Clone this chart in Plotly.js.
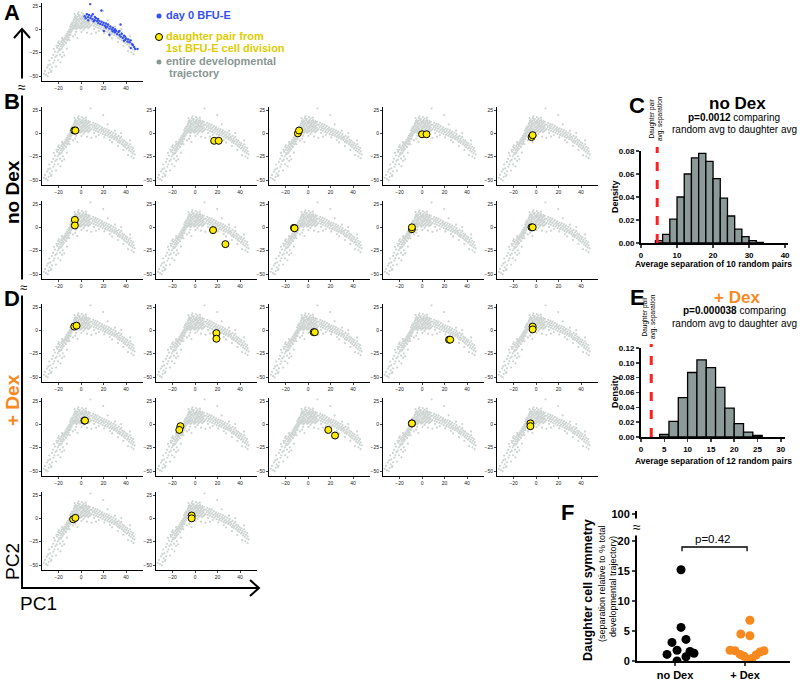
<!DOCTYPE html>
<html><head><meta charset="utf-8">
<script src="https://cdn.plot.ly/plotly-3.0.1.min.js"></script>
<style>html,body{margin:0;padding:0;background:#fff}#chart{width:800px;height:680px}</style>
</head><body><div id="chart"></div>
<script>
// ---------------- DATA ----------------
// entire developmental trajectory (PC1, PC2)
const trajectoryPoints = [
[-31.2,-49.1],[-29.6,-50.3],[-28.8,-46.7],[-32.1,-44.6],[-27.9,-42.8],[-30.3,-40.9],[-26.7,-45.6],[-25.8,-40.7],[-27.4,-37.6],[-24.6,-35.8],
[-28.3,-33.4],[-23.7,-33.2],[-25.9,-30.6],[-22.8,-29.7],[-24.8,-27.3],[-21.6,-28.2],[-20.7,-24.6],[-23.2,-23.8],[-19.6,-22.7],[-24.1,-20.9],
[-18.7,-27.1],[-29.2,-38.7],[-20.4,-33.1],[-16.8,-29.6],[-14.9,-27.8],[-12.6,-20.7],[-18.3,-35.4],[-33.1,-47.6],[-22.2,-39.8],[-26.3,-44.7],
[-21.3,-19.6],[-20.2,-17.7],[-19.4,-20.8],[-18.9,-15.6],[-18.2,-18.3],[-17.6,-13.7],[-17.1,-16.6],[-16.7,-11.8],[-16.2,-14.8],[-15.8,-10.6],
[-15.3,-12.7],[-14.6,-8.8],[-14.2,-13.6],[-13.9,-9.7],[-13.7,-6.6],[-13.1,-10.8],[-12.8,-7.7],[-12.6,-4.6],[-12.1,-8.6],[-11.8,-5.7],
[-11.7,-2.6],[-11.2,-6.8],[-10.8,-3.7],[-10.6,-0.8],[-10.2,-5.6],[-9.8,-2.7],[-9.6,0.4],[-9.7,3.2],[-9.1,-3.6],[-8.8,-0.7],
[-8.6,2.3],[-8.9,5.4],[-8.2,-1.8],[-7.8,1.3],[-7.6,4.4],[-7.9,7.3],[-20.3,-14.6],[-18.1,-21.7],[-16.4,-18.6],[-15.2,-16.7],
[-13.4,-14.8],[-11.3,-10.7],[-21.8,-17.6],[-17.3,-20.6],[-14.8,-11.3],[-12.4,-11.9],[-10.9,-8.8],[-9.4,-6.2],[-19.8,-12.9],[-16.9,-9.4],
[-7.2,0.4],[-6.8,2.7],[-7.4,6.3],[-6.6,9.2],[-5.7,1.3],[-6.3,4.1],[-5.9,7.4],[-6.2,10.6],[-5.6,13.1],[-4.8,2.4],
[-5.3,5.2],[-4.6,8.3],[-5.1,11.4],[-4.7,14.2],[-4.2,0.3],[-3.7,3.4],[-4.3,6.1],[-3.8,9.4],[-4.1,12.3],[-3.3,1.2],
[-2.8,4.4],[-3.4,7.2],[-2.7,10.3],[-3.2,13.4],[-2.9,16.2],[-1.8,2.3],[-2.3,5.4],[-1.6,8.2],[-2.1,11.3],[-1.7,14.4],
[-0.8,0.6],[-1.2,3.3],[-0.6,6.4],[-1.3,9.1],[-0.7,12.4],[-1.1,15.3],[0.3,1.4],[-0.2,4.3],[0.4,7.2],[0.1,10.4],
[0.6,13.2],[1.2,2.4],[0.8,5.3],[1.4,8.4],[0.9,11.2],[1.3,14.3],[2.2,3.3],[1.8,6.4],[2.4,9.3],[1.7,12.2],
[2.3,15.8],[3.2,1.3],[2.8,4.2],[3.4,7.3],[2.7,10.2],[3.3,13.4],[4.2,2.3],[3.8,5.4],[4.3,8.2],[3.7,11.3],
[4.4,14.1],[5.2,3.2],[4.8,6.3],[5.3,9.4],[4.7,12.2],[6.3,1.4],[5.8,4.3],[6.2,7.2],[5.7,10.3],[6.4,13.2],
[7.3,2.3],[6.8,5.4],[7.2,8.3],[6.7,11.2],[8.2,3.4],[7.7,6.2],[8.3,9.3],[7.8,12.4],[-2.3,18.2],[0.7,17.4],
[4.3,16.8],[-5.8,16.3],[8.4,26.8],[19.7,19.6],[-4.3,-2.7],[2.2,-0.6],[-3.6,9.9],[-0.4,11.7],[2.6,8.6],[-5.4,3.8],
[0.2,2.1],
[9.3,4.6],[9.6,9.2],[10.4,6.7],[10.8,11.3],[11.3,3.8],[11.7,8.2],[12.4,5.6],[12.8,10.1],[13.2,2.7],[13.6,7.4],
[14.3,4.8],[14.7,9.3],[15.2,1.6],[15.6,6.2],[16.3,3.4],[16.7,7.8],[17.2,0.6],[17.8,4.7],[18.3,2.2],[18.7,6.3],
[19.2,-0.9],[19.6,3.6],[20.3,1.2],[20.8,5.1],[21.4,-1.7],[21.8,2.4],[22.3,-0.2],[22.7,4.2],[23.4,-2.6],[23.8,1.3],
[24.3,-1.1],[24.8,3.2],[25.3,-3.8],[25.7,0.2],[26.4,-2.4],[26.8,1.8],[27.2,-4.9],[27.7,-1.3],[28.3,-3.7],[28.8,0.6],
[29.4,-6.1],[29.8,-2.6],[30.3,-4.8],[30.7,-0.9],[31.4,-7.2],[31.8,-3.9],[32.3,-5.8],[32.7,-9.2],[33.4,-2.8],[33.8,-7.6],
[34.3,-10.3],[34.7,-5.4],[35.2,-8.7],[35.8,-3.9],[36.3,-11.6],[36.7,-6.8],[37.2,-9.7],[37.8,-13.4],[38.3,-7.9],[38.7,-11.8],
[39.2,-14.7],[39.7,-9.6],[40.3,-12.6],[40.8,-16.3],[41.2,-10.8],[41.7,-15.2],[42.3,-13.4],[42.6,-18.4],[43.3,-16.3],[43.7,-11.7],
[44.2,-19.6],[44.6,-14.4],[45.3,-17.6],[45.8,-21.4],[46.3,-15.7],[46.8,-19.3],[47.6,-22.6],[44.8,-24.6],[41.8,-23.4],[37.6,-17.8],
[32.8,-13.6],[27.6,-9.7],[46.7,-26.6],[13.3,-3.6],[23.7,9.6],[30.2,2.8],[35.7,0.3],[43.6,-7.6],[20.6,-4.4],[25.6,-7.2],
[15.8,-1.8],[11.6,0.4],
[-5.2,-5.7],[0.4,-2.8],[5.3,-3.6],[-10.3,-11.7],[-7.2,-7.6],[9.2,-4.8],[-16.2,-24.6],[-3.2,-9.3]
];
// day 0 BFU-E cells (panel A)
const day0Points = [
[3.2,14.1],[4.1,11.8],[5.3,16.2],[6.2,13.1],[6.4,9.8],[7.1,15.3],[8.3,12.2],[8.1,27.2],[9.2,14.3],[10.1,11.2],
[10.4,16.1],[11.2,8.7],[12.3,13.2],[12.1,9.8],[13.3,11.9],[14.2,8.8],[15.1,11.2],[15.3,6.7],[16.2,9.1],[17.1,5.8],
[18.2,8.2],[18.1,20.1],[19.2,4.8],[20.1,7.1],[21.3,3.8],[22.2,6.2],[22.1,1.8],[23.3,2.9],[24.1,5.2],[25.2,0.8],
[26.1,3.1],[27.3,-0.2],[28.1,-2.2],[28.3,1.8],[29.2,-1.1],[30.1,-3.2],[30.3,0.2],[31.2,-1.8],[32.1,-5.1],[33.3,-2.9],
[34.2,-6.1],[34.1,-1.8],[35.3,-7.8],[35.1,5.2],[36.2,-4.8],[37.1,-9.2],[38.3,-6.8],[39.2,-11.1],[39.1,-7.8],[40.2,-9.8],
[41.3,-13.2],[42.1,-10.8],[43.2,-13.9],[44.1,-11.8],[44.2,-20.1],[45.3,-15.8],[46.1,-16.9],[47.2,-18.8],[48.1,-20.9],[50.2,-21.1],
[20.3,-1.8],[25.2,-5.8],[38.2,-12.2]
];
// daughter pairs, no Dex (10 panels) and + Dex (12 panels)
const noDexPairX = [[-6,-5],[17,21],[-9,-8],[0,4],[-4,-3],[-5.5,-5.5],[16,27],[-12.5,-12],[-9,-9],[-4,-3]];
const noDexPairY = [[3,3],[-8,-8],[0,3],[-1,-1],[-4,-2],[8,2],[-3,-18],[-0.5,-1],[-2,0],[0,0]];
const dexPairX = [[-6,-4],[19,19],[5,6],[24,25],[-3,-3],[3,3.5],[-13,-14],[18,24],[-9,-9],[-5,-5],[-7,-5],[-3,-3]];
const dexPairY = [[4,5],[-3,-9],[-2,-2],[-10,-10],[4,1],[4,4],[-2,-6],[-6,-12],[1,1],[1,-2],[-1,0.5],[3,0]];
// histogram C (no Dex): bin centers and densities
const histNoDexBins = [5,7,9,11,13,15,17,19,21,23,25,27,29,31,33];
const histNoDexDensity = [0.002,0.0075,0.0207,0.040,0.060,0.074,0.078,0.071,0.056,0.039,0.0235,0.012,0.0056,0.002,0.0005];
// histogram E (+ Dex)
const histDexBins = [5,7,9,11,13,15,17,19,21,23,25];
const histDexDensity = [0.0034,0.021,0.053,0.087,0.104,0.0935,0.067,0.039,0.018,0.0067,0.002];
const daughterAvgNoDex = 4.5;
const daughterAvgDex = 2.2;
// panel F: daughter cell symmetry
const symNoDexX = [1.086,1.086,1.157,0.957,1.029,1.214,1.271,0.886,1.157,1.029];
const symNoDexY = [15.2,5.6,3.6,3.1,1.8,1.6,1.3,1.1,0.7,0.0];
const symDexX = [2.07,1.94,2.07,1.786,1.857,1.929,1.986,2.043,2.1,2.157,2.214,2.271];
const symDexY = [6.8,4.5,4.2,1.8,1.7,1.1,0.8,0.3,0.4,1.0,1.5,1.7];
const groupLabels = ['no Dex','+ Dex'];

// ---------------- LAYOUT HELPERS ----------------
const W=800,H=680;
const FONT='Liberation Sans, Arial, sans-serif';
const px=v=>v/W, py=v=>1-v/H;
const traces=[]; const layout={
  width:W,height:H,margin:{l:0,r:0,t:0,b:0},showlegend:false,
  paper_bgcolor:'#fff',plot_bgcolor:'rgba(0,0,0,0)',font:{family:FONT,color:'#000'},
  annotations:[],shapes:[]
};
const trajX=trajectoryPoints.map(p=>p[0]), trajY=trajectoryPoints.map(p=>p[1]);
const GRAY='#cdd4d2', YEL='#ffec00', ORANGE='#f7891f', BLUE='#3550f0';

function smallPanel(k,left,t25,extra){
  const xa='xaxis'+k, ya='yaxis'+k;
  const xs=1.125, ys=70/75;
  layout[xa]={domain:[px(left),px(left+89.7*xs)],range:[-34.7,55],anchor:'y'+k,
    showline:true,linecolor:'#000',linewidth:1,ticks:'outside',ticklen:2,tickwidth:1,
    tickvals:[-20,0,20,40],tickfont:{size:5,color:'#222'},showgrid:false,zeroline:false,fixedrange:true};
  layout[ya]={domain:[py(t25+80*ys),py(t25-3*ys)],range:[-55,28],anchor:'x'+k,
    showline:true,linecolor:'#000',linewidth:1,ticks:'outside',ticklen:2,tickwidth:1,
    tickvals:[-50,-25,0,25],tickfont:{size:5,color:'#222'},showgrid:false,zeroline:false,fixedrange:true};
  traces.push({type:'scatter',mode:'markers',x:trajX,y:trajY,xaxis:'x'+k,yaxis:'y'+k,
    marker:{size:2.2,color:GRAY},hoverinfo:'skip'});
  if(extra){extra.xaxis='x'+k;extra.yaxis='y'+k;traces.push(extra);}
}
const pairTrace=(xs,ys)=>({type:'scatter',mode:'markers',x:xs,y:ys,
  marker:{size:7,color:YEL,line:{color:'#000',width:1}}});

// Panel A
smallPanel(1,42,6,{type:'scatter',mode:'markers',x:day0Points.map(p=>p[0]),y:day0Points.map(p=>p[1]),
  marker:{size:2.4,color:BLUE}});
const cols=[42,156,269,383,497];
const bRows=[110,204], dRows=[307,401,495];
let k=2;
noDexPairX.forEach((xs,i)=>{smallPanel(k++,cols[i%5],bRows[Math.floor(i/5)],pairTrace(xs,noDexPairY[i]));});
dexPairX.forEach((xs,i)=>{smallPanel(k++,cols[i%5],dRows[Math.floor(i/5)],pairTrace(xs,dexPairY[i]));});

// Histograms
function hist(k,bins,dens,xdom,xrange,xticks,ydom,yticks,redX){
  const axisCommon={showline:true,linecolor:'#000',linewidth:2,ticks:'outside',ticklen:3,tickwidth:1.5,
    tickfont:{size:8,weight:'bold'},showgrid:false,zeroline:false,fixedrange:true};
  layout['xaxis'+k]=Object.assign({domain:[px(xdom[0]),px(xdom[1])],range:xrange,tickvals:xticks,anchor:'y'+k},axisCommon);
  layout['yaxis'+k]=Object.assign({domain:[py(ydom[1]),py(ydom[0])],range:[0,yticks[yticks.length-1]],tickvals:yticks,tickformat:'.2f',anchor:'x'+k},axisCommon);
  traces.push({type:'bar',x:bins,y:dens,width:2,xaxis:'x'+k,yaxis:'y'+k,
    marker:{color:'#8c9b99',line:{color:'#000',width:1.3}}});
  layout.shapes.push({type:'line',xref:'x'+k,yref:'paper',x0:redX,x1:redX,y0:py(ydom[1]),y1:py(ydom[0]-4),
    line:{color:'#ff1f1f',width:3,dash:'dash'}});
}
hist(24,histNoDexBins,histNoDexDensity,[641,788],[0,40.8],[0,10,20,30,40],[151,243],[0,0.02,0.04,0.06,0.08],daughterAvgNoDex);
hist(25,histDexBins,histDexDensity,[641,785],[0,30.9],[0,5,10,15,20,25,30],[348,437],[0,0.02,0.04,0.06,0.08,0.10,0.12],daughterAvgDex);

// Panel F
const fAxis={showline:true,linecolor:'#000',linewidth:2,ticks:'outside',ticklen:3,tickwidth:2,
  tickfont:{size:11,weight:'bold'},showgrid:false,zeroline:false,fixedrange:true};
layout.xaxis26=Object.assign({domain:[px(637),px(790)],range:[0.457,2.643],tickvals:[1,2],ticktext:groupLabels,anchor:'y26'},fAxis);
layout.yaxis26=Object.assign({domain:[py(661),py(532)],range:[0,21.5],tickvals:[0,5,10,15,20],anchor:'x26'},fAxis);
layout.yaxis27=Object.assign({domain:[py(523),py(511)],range:[98.5,100.5],tickvals:[100],anchor:'x26'},fAxis);
traces.push({type:'scatter',mode:'markers',x:symNoDexX,y:symNoDexY,xaxis:'x26',yaxis:'y26',marker:{size:9,color:'#000'}});
traces.push({type:'scatter',mode:'markers',x:symDexX,y:symDexY,xaxis:'x26',yaxis:'y26',marker:{size:9,color:ORANGE}});
traces.push({type:'scatter',mode:'markers',x:[null],y:[null],xaxis:'x26',yaxis:'y27'});
layout.shapes.push({type:'path',xref:'x26',yref:'y26',path:'M 1.1 18.3 L 1.1 19 L 2.03 19 L 2.03 18.3',line:{color:'#000',width:1.3}});

// annotations helper
function ann(x,y,text,o){layout.annotations.push(Object.assign({xref:'paper',yref:'paper',x:px(x),y:py(y),text:text,
  showarrow:false,xanchor:'center',yanchor:'middle',font:{family:FONT,size:10,color:'#000'}},o||{}));}
ann(713,539,'p=0.42',{font:{size:11.5,color:'#000'}});
ann(588,590,'<b>Daughter cell symmetry</b>',{textangle:-90,font:{size:12.5,color:'#000'}});
ann(602,584,'(separation relative to % total',{textangle:-90,font:{size:9,color:'#000'}});
ann(613,587,'developmental trajectory)',{textangle:-90,font:{size:9,color:'#000'}});
// y break on F
ann(637,527,'≈',{font:{size:14,color:'#000'},bgcolor:'#fff',borderpad:0});

// hist titles
ann(737,103,'<b>no Dex</b>',{font:{size:17,color:'#000'}});
ann(734,117,'<b>p=0.0012</b> comparing',{font:{size:10,color:'#000'}});
ann(734,129,'random avg to daughter avg',{font:{size:10,color:'#000'}});
ann(656,119,'Daughter pair<br>avg. separation',{textangle:-90,font:{size:6.5,color:'#000'}});
ann(713,264,'<b>Average separation of 10 random pairs</b>',{font:{size:8.5,color:'#000'}});
ann(615,197,'<b>Density</b>',{textangle:-90,font:{size:9,color:'#000'}});

ann(737,297,'<b>+ Dex</b>',{font:{size:17,color:ORANGE}});
ann(734,311,'<b>p=0.000038</b> comparing',{font:{size:10,color:'#000'}});
ann(734,323,'random avg to daughter avg',{font:{size:10,color:'#000'}});
ann(649,317,'Daughter pair<br>avg. separation',{textangle:-90,font:{size:6.5,color:'#000'}});
ann(713,461,'<b>Average separation of 12 random pairs</b>',{font:{size:8.5,color:'#000'}});
ann(615,392,'<b>Density</b>',{textangle:-90,font:{size:9,color:'#000'}});

// panel letters
ann(12,12,'<b>A</b>',{font:{size:22,color:'#000'}});
ann(12,101,'<b>B</b>',{font:{size:22,color:'#000'}});
ann(637,105,'<b>C</b>',{font:{size:22,color:'#000'}});
ann(12,298,'<b>D</b>',{font:{size:22,color:'#000'}});
ann(637,297,'<b>E</b>',{font:{size:22,color:'#000'}});
ann(567,512,'<b>F</b>',{font:{size:22,color:'#000'}});
// side labels
ann(12,192,'<b>no Dex</b>',{textangle:-90,font:{size:19,color:'#000'}});
ann(12,400,'<b>+ Dex</b>',{textangle:-90,font:{size:19,color:ORANGE}});
ann(12,562,'PC2',{textangle:-90,font:{size:19,color:'#000'}});
ann(38,603,'PC1',{font:{size:19,color:'#000'}});
// legend
ann(164,15,'<b>day 0 BFU-E</b>',{xanchor:'left',font:{size:11,color:BLUE}});
ann(164,36,'<b>daughter pair from</b>',{xanchor:'left',font:{size:11,color:'#e0cc00'}});
ann(164,48,'<b>1st BFU-E cell division</b>',{xanchor:'left',font:{size:11,color:'#e0cc00'}});
ann(164,61,'<b>entire developmental</b>',{xanchor:'left',font:{size:11,color:'#8a9694'}});
ann(167,73,'<b>trajectory</b>',{xanchor:'left',font:{size:11,color:'#8a9694'}});
const circ=(cx,cy,r,fill,lc)=>layout.shapes.push({type:'circle',xref:'paper',yref:'paper',
  x0:px(cx-r),x1:px(cx+r),y0:py(cy+r),y1:py(cy-r),fillcolor:fill,line:{color:lc||fill,width:lc?1:0}});
circ(159,16,2.5,BLUE);
circ(159,37,3.5,YEL,'#000');
circ(159,62,2.5,'#8a9694');
// big PC arrows
const P=(x,y)=>px(x)+' '+py(y);
layout.shapes.push({type:'path',xref:'paper',yref:'paper',path:'M '+P(22,30)+' L '+P(22,588)+' L '+P(258,588),line:{color:'#000',width:2}});
layout.shapes.push({type:'path',xref:'paper',yref:'paper',path:'M '+P(14,38)+' L '+P(22,29)+' L '+P(30,38),line:{color:'#000',width:2}});
layout.shapes.push({type:'path',xref:'paper',yref:'paper',path:'M '+P(250,580)+' L '+P(259,588)+' L '+P(250,596),line:{color:'#000',width:2}});
ann(22,87,'≈',{font:{size:14,color:'#000'},bgcolor:'#fff',borderpad:0});
ann(23,287,'≈',{font:{size:13,color:'#000'},bgcolor:'#fff',borderpad:0});

Plotly.newPlot('chart',traces,layout,{displayModeBar:false,staticPlot:true});
</script></body></html>
